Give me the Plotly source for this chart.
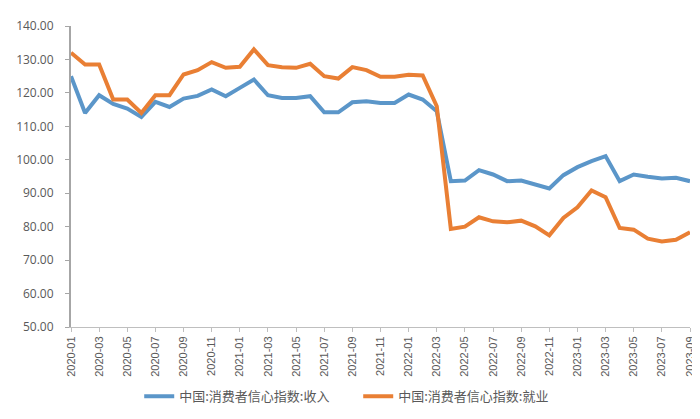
import plotly.graph_objects as go

months = [f"{y}-{m:02d}" for y in range(2020, 2024) for m in range(1, 13)][:45]

income = [125.0, 114.0, 119.3, 116.7, 115.3, 112.8, 117.3, 115.8, 118.3, 119.1, 121.0, 119.0,
          121.5, 124.0, 119.3, 118.5, 118.5, 119.0, 114.2, 114.2, 117.2, 117.5, 117.0, 117.0,
          119.5, 118.0, 114.5, 93.6, 93.8, 96.9, 95.6, 93.6, 93.8, 92.6, 91.4, 95.4,
          97.8, 99.6, 101.1, 93.6, 95.6, 94.9, 94.4, 94.6, 93.6]

employment = [132.0, 128.5, 128.5, 118.0, 118.0, 114.0, 119.3, 119.3, 125.5, 126.8, 129.2, 127.5,
              127.8, 133.0, 128.3, 127.7, 127.5, 128.7, 125.0, 124.3, 127.7, 126.8, 124.8, 124.8,
              125.4, 125.2, 116.0, 79.3, 80.0, 82.8, 81.6, 81.3, 81.8, 80.1, 77.4, 82.6,
              85.8, 90.8, 88.8, 79.6, 79.1, 76.4, 75.6, 76.1, 78.3]

names = ["中国:消费者信心指数:收入", "中国:消费者信心指数:就业"]
colors = ["#5B96C9", "#E97F34"]

fig = go.Figure()
for name, vals, c in zip(names, [income, employment], colors):
    fig.add_trace(go.Scatter(x=months, y=vals, mode="lines", name=name,
                             line=dict(color=c, width=4)))

fig.update_layout(
    width=700, height=419,
    margin=dict(l=63, r=18, t=18, b=100, autoexpand=False),
    plot_bgcolor="white", paper_bgcolor="white",
    font=dict(family="Noto Sans CJK SC, Noto Sans, sans-serif", color="#595959"),
    showlegend=True,
    legend=dict(orientation="h", x=0.464, xanchor="center",
                y=-0.23, yanchor="middle", font=dict(size=13, color="#595959"),
                itemwidth=30, tracegroupgap=0, entrywidth=174, entrywidthmode="pixels"),
    xaxis=dict(type="category", range=[0, 44], tickangle=-90,
               tickmode="array", tickvals=months[::2], ticktext=months[::2],
               tickfont=dict(size=11, family="Liberation Sans, sans-serif", color="#595959"),
               showgrid=False, showline=True, linecolor="#BFBFBF", linewidth=1,
               ticks="outside", ticklen=4, tickcolor="#BFBFBF", zeroline=False),
    yaxis=dict(range=[50, 140], dtick=10, tickformat=".2f",
               tickfont=dict(size=12, family="Open Sans, sans-serif", color="#595959"),
               showgrid=False, showline=True, linecolor="#A6A6A6", linewidth=2,
               ticks="outside", ticklen=4, tickcolor="#A6A6A6", zeroline=False,
               ticklabelstandoff=9),
)

fig.write_html("out.html")
